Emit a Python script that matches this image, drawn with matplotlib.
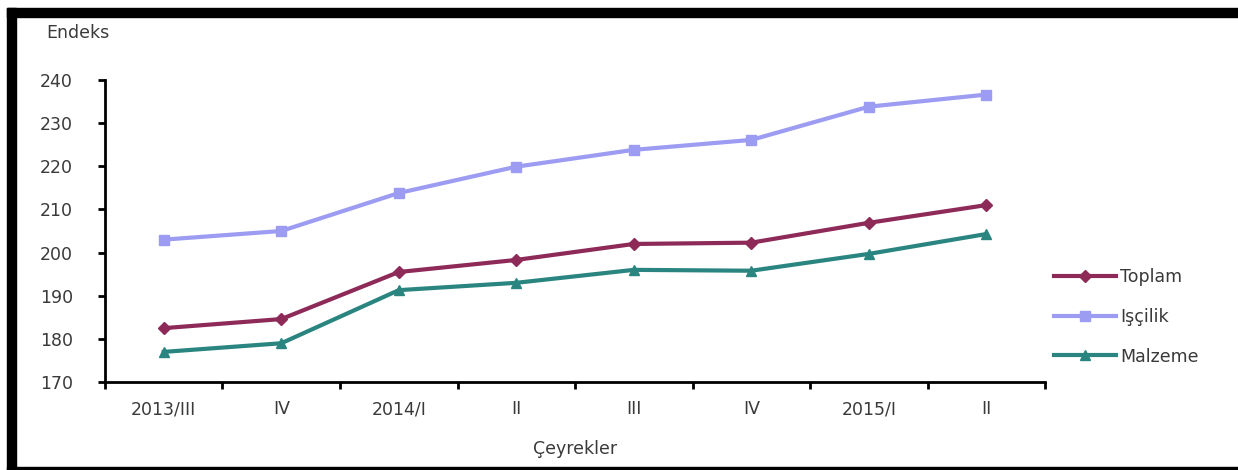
import numpy as np
import matplotlib
matplotlib.use("Agg")
import matplotlib.pyplot as plt
from matplotlib.patches import Rectangle

plt.rcParams['font.family'] = ['DejaVu Sans']

# Veriler (grafikten okunan endeks değerleri)
ceyrekler = ['2013/III', 'IV', '2014/I', 'II', 'III', 'IV', '2015/I', 'II']
toplam = [182.5, 184.6, 195.5, 198.3, 202.0, 202.3, 206.9, 211.0]
iscilik = [203.0, 205.0, 213.8, 219.9, 223.8, 226.1, 233.8, 236.6]
malzeme = [177.0, 179.0, 191.3, 193.0, 196.0, 195.8, 199.7, 204.3]

yazi = '#3a3a3a'
fs = 12.5

fig = plt.figure(figsize=(12.38, 4.7), dpi=100)
ax = fig.add_axes([0.0848, 0.187, 0.7594, 0.643])

x = np.arange(len(ceyrekler)) + 0.5
ax.plot(x, toplam, color='#8E2A58', marker='D', markersize=6.5, linewidth=3, label='Toplam')
ax.plot(x, iscilik, color='#9C9CF2', marker='s', markersize=6.5, linewidth=3, label='Işçilik')
ax.plot(x, malzeme, color='#2A8580', marker='^', markersize=6.5, linewidth=3, label='Malzeme')

ax.set_xlim(0, len(ceyrekler))
ax.set_ylim(170, 240)
ax.set_yticks(np.arange(170, 241, 10))
ax.set_xticks(np.arange(0, len(ceyrekler) + 1))
ax.set_xticks(x, minor=True)
ax.set_xticklabels([])
ax.set_xticklabels(ceyrekler, minor=True)
ax.tick_params(axis='x', which='major', length=5, width=2, direction='out')
ax.tick_params(axis='x', which='minor', length=0, pad=13, labelsize=fs, labelcolor=yazi)
ax.tick_params(axis='y', length=5, width=2, direction='out', pad=18, labelsize=fs, labelcolor=yazi)

for s in ['top', 'right']:
    ax.spines[s].set_visible(False)
for s in ['left', 'bottom']:
    ax.spines[s].set_linewidth(2)

ax.set_xlabel('Çeyrekler', fontsize=fs, color=yazi, labelpad=16)
fig.text(0.037, 0.93, 'Endeks', fontsize=fs, color=yazi, va='center')

ax.legend(loc='center left', bbox_to_anchor=(1.0, 0.216), frameon=False,
          fontsize=fs, handlelength=3.6, handletextpad=0.2, labelspacing=1.25,
          borderaxespad=0.1, labelcolor=yazi)

# Çerçeve
fig.patches.append(Rectangle((7 / 1238, 1 - 17 / 470), 1, 9 / 470, transform=fig.transFigure,
                             color='black', zorder=10))
fig.patches.append(Rectangle((7 / 1238, 0), 9 / 1238, 1 - 8 / 470, transform=fig.transFigure,
                             color='black', zorder=10))
fig.patches.append(Rectangle((7 / 1238, 0), 1, 3 / 470, transform=fig.transFigure,
                             color='black', zorder=10))

fig.savefig('out.png', dpi=100)
